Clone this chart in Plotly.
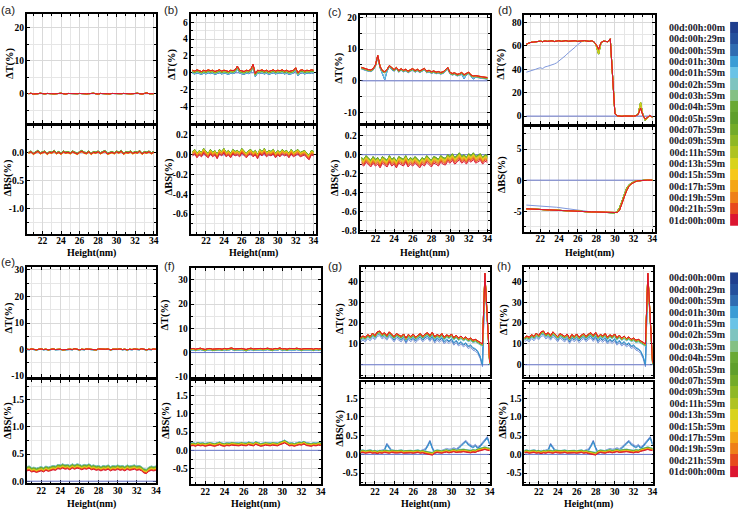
import plotly.graph_objects as go

W, HPX = 745, 515
SERIF = "Liberation Serif"
SANS = "Liberation Sans"

# ---------------- data ----------------
HEIGHT = [20.5 + 0.25 * i for i in range(55)]  # measurement heights (nm)
X_TICKS = [22, 24, 26, 28, 30, 32, 34]

TIME_LABELS = ["00d:00h:00m", "00d:00h:29m", "00d:00h:59m", "00d:01h:30m", "00d:01h:59m",
               "00d:02h:59m", "00d:03h:59m", "00d:04h:59m", "00d:05h:59m", "00d:07h:59m",
               "00d:09h:59m", "00d:11h:59m", "00d:13h:59m", "00d:15h:59m", "00d:17h:59m",
               "00d:19h:59m", "00d:21h:59m", "01d:00h:00m"]
COLORS = ["#1f3f8e", "#24509c", "#2f6cb1", "#3a9cd5", "#6ac3e6", "#7ec4bf", "#84c084",
          "#69a934", "#5f9f2c", "#73ab29", "#8fb825", "#afc321", "#d8d31c", "#f6c81a",
          "#f4a616", "#ee8018", "#e74a1d", "#dc1631"]
LINE_COLORS = ["#6a78cc", "#7f98dc"] + COLORS[2:]

REFERENCE = [0.0] * 55  # scan at t=0 is the reference (delta = 0)

# (a)
A_T = [0.0, 0.1, -0.1, 0.05, 0.0, 0.1, 0.0, -0.05, 0.05, 0.1, 0.0,
       -0.05, 0.05, 0.0, 0.1, 0.0, -0.1, 0.05, 0.0, 0.1, -0.05, 0.0,
       0.05, 0.1, 0.0, -0.05, 0.05, 0.0, 0.1, 0.0, -0.1, 0.05, 0.0,
       0.1, 0.0, -0.05, 0.05, 0.0, 0.1, -0.05, 0.0, 0.05, 0.1, 0.0,
       -0.05, 0.05, 0.0, 0.1, 0.0, -0.1, 0.05, 0.2, 0.0, 0.05, 0.0]
A_T_OFF = [0.0] * 18
A_BS = [0.0, 0.02, -0.02, 0.01, 0.03, -0.01, 0.0, 0.02, -0.02, 0.01, 0.0,
        0.03, -0.01, 0.01, -0.02, 0.02, 0.0, 0.01, -0.01, 0.02, 0.0, -0.02,
        0.01, 0.03, 0.0, -0.01, 0.02, -0.02, 0.01, 0.0, 0.02, -0.01, 0.01,
        0.03, -0.02, 0.0, 0.01, -0.01, 0.02, 0.0, 0.03, -0.02, 0.01, 0.0,
        0.02, -0.01, 0.01, 0.0, 0.03, -0.02, 0.01, 0.0, 0.02, -0.01, 0.01]
A_BS_OFF = [0.0, 0.01, 0.01, 0.01, 0.01, 0.015, 0.015, 0.015, 0.01, 0.01, 0.005, 0.0,
            -0.005, -0.01, -0.01, -0.005, 0.0, 0.0]

# (b)
B_T = [0.3, 0.2, 0.35, 0.25, 0.15, 0.3, 0.2, 0.35, 0.25, 0.3, 0.15,
       0.25, 0.35, 0.2, 0.3, 0.25, 0.15, 0.3, 0.25, 0.35, 0.8, 0.3,
       0.2, 0.15, 0.3, 0.25, 0.4, 1.0, -0.1, 0.3, 0.25, 0.35, 0.2,
       0.3, 0.15, 0.25, 0.35, 0.2, 0.3, 0.25, 0.35, 0.2, 0.3, 0.15,
       0.25, 0.3, 0.6, 0.0, 0.3, 0.35, 0.2, 0.3, 0.25, 0.35, 0.3]
B_T_OFF = [0.0, -0.35, -0.35, -0.3, -0.3, -0.25, -0.2, -0.15, -0.15, -0.1, -0.1, -0.05,
           -0.05, 0.0, 0.0, 0.0, 0.0, 0.0]
B_BS = [-0.01, 0.01, -0.03, 0.0, -0.02, 0.02, -0.01, -0.03, 0.01, -0.02, 0.0,
        -0.04, 0.01, -0.01, 0.02, -0.02, 0.0, -0.03, 0.01, -0.01, 0.0, -0.02,
        0.02, -0.01, -0.03, 0.0, 0.01, -0.02, 0.0, -0.04, 0.01, -0.01, 0.02,
        -0.02, 0.0, -0.01, 0.01, -0.03, 0.0, -0.02, 0.01, -0.01, 0.0, -0.03,
        0.01, -0.02, 0.0, 0.01, -0.02, -0.01, 0.0, -0.03, -0.05, 0.0, -0.01]
B_BS_OFF = [0.0, 0.03, 0.03, 0.035, 0.035, 0.04, 0.04, 0.045, 0.045, 0.04, 0.04, 0.035,
            0.035, 0.03, 0.025, 0.02, 0.01, 0.0]

# (c)
C_T = [4.2, 3.9, 3.7, 3.5, 3.4, 3.8, 5.0, 8.0, 4.5, 3.2, 2.8,
       3.6, 4.8, 4.0, 3.5, 4.2, 3.2, 3.8, 3.3, 3.6, 3.0, 3.5,
       3.8, 3.2, 3.6, 3.1, 3.4, 3.9, 3.0, 3.3, 2.8, 3.1, 2.7,
       2.9, 2.6, 2.8, 3.4, 4.2, 2.6, 2.3, 2.5, 2.0, 2.2, 2.6,
       1.9, 2.3, 2.7, 1.8, 1.5, 1.6, 1.4, 1.3, 1.2, 1.1, 1.0]
C_T_EARLY = [3.7, 3.4, 3.2, 3.0, 2.9, 3.3, 4.5, 7.4, 4.0, 2.4, 0.3,
             3.0, 4.3, 3.5, 3.0, 3.7, 2.7, 3.3, 2.8, 3.1, 2.5, 3.0,
             3.3, 2.7, 3.1, 2.6, 2.9, 3.4, 2.5, 2.8, 2.3, 2.6, 2.2,
             2.4, 2.1, 2.3, 2.9, 3.6, 2.1, 1.8, 2.0, 1.5, 1.7, 2.0,
             0.6, 1.8, 2.2, 1.3, 0.5, 1.1, 0.9, 0.8, 0.7, 0.6, 0.5]
C_T_OFF = [0.0, 0.0, 0.1, 0.1, 0.2, -0.3, -0.3, -0.2, -0.2, -0.15, -0.1, -0.1, -0.05,
           0.0, 0.05, 0.05, 0.05, 0.0]
C_BS = [-0.1, -0.12, -0.08, -0.11, -0.13, -0.09, -0.12, -0.1, -0.14, -0.09, -0.11,
        -0.13, -0.08, -0.12, -0.1, -0.14, -0.09, -0.11, -0.12, -0.08, -0.13, -0.1,
        -0.12, -0.09, -0.11, -0.14, -0.1, -0.12, -0.08, -0.11, -0.13, -0.09, -0.1,
        -0.12, -0.08, -0.1, -0.11, -0.07, -0.09, -0.06, -0.1, -0.08, -0.05, -0.09,
        -0.07, -0.1, -0.06, -0.08, -0.05, -0.09, -0.07, -0.06, -0.1, -0.07, -0.08]
C_BS_OFF = [0.0, 0.05, 0.05, 0.04, 0.04, 0.05, 0.06, 0.07, 0.07, 0.065, 0.06, 0.055,
            0.05, 0.045, 0.035, 0.025, 0.015, 0.0]

# (d)
D_T = [61.5, 62.5, 63.0, 63.2, 63.5, 63.8, 64.0, 63.6, 64.2, 63.8, 64.0,
       64.3, 63.7, 64.0, 64.4, 63.8, 64.1, 64.5, 63.9, 64.2, 64.0, 64.4,
       63.8, 64.2, 64.0, 64.5, 64.1, 63.8, 64.3, 63.5, 60.0, 53.0, 62.5,
       64.0, 63.8, 63.5, 66.0, 30.0, 2.0, 0.3, 0.0, -0.2, 0.1, 0.0,
       -0.1, 0.2, 0.0, 0.3, 2.0, 11.5, 1.0, -3.5, -1.0, 0.5, -0.8]
D_T_LATE = [61.5, 62.5, 63.0, 63.2, 63.5, 63.8, 64.0, 63.6, 64.2, 63.8, 64.0,
            64.3, 63.7, 64.0, 64.4, 63.8, 64.1, 64.5, 63.9, 64.2, 64.0, 64.4,
            63.8, 64.2, 64.0, 64.5, 64.1, 63.8, 64.3, 63.5, 61.0, 57.0, 62.8,
            64.0, 63.8, 63.5, 66.0, 30.0, 2.0, 0.3, 0.0, -0.2, 0.1, 0.0,
            -0.1, 0.2, 0.0, 0.3, 1.5, 7.0, 0.5, -2.5, -1.0, 0.5, -0.8]
D_T_29M = [37.5, 38.0, 39.0, 39.2, 40.0, 40.8, 41.3, 40.6, 42.0, 42.5, 43.0,
           43.5, 44.5, 45.5, 47.0, 48.5, 50.0, 52.0, 54.0, 55.5, 57.5, 59.0,
           61.0, 62.5, 64.0, 64.5, 64.1, 63.8, 64.3, 63.5, 60.0, 53.0, 62.5,
           64.0, 63.8, 63.5, 66.0, 30.0, 2.0, 0.3, 0.0, -0.2, 0.1, 0.0,
           -0.1, 0.2, 0.0, 0.3, 2.0, 11.5, 1.0, -3.5, -1.0, 0.5, -0.8]
D_T_OFF = [0.0] * 18
D_BS = [-4.6, -4.62, -4.65, -4.66, -4.7, -4.7, -4.72, -4.74, -4.75, -4.78, -4.8,
        -4.82, -4.84, -4.85, -4.88, -4.9, -4.92, -4.93, -4.95, -4.96, -4.98, -5.0,
        -5.0, -5.02, -5.04, -5.05, -5.06, -5.08, -5.1, -5.1, -5.12, -5.14, -5.15,
        -5.17, -5.18, -5.2, -5.22, -5.25, -5.25, -5.0, -4.4, -3.4, -2.2, -1.3,
        -0.75, -0.45, -0.25, -0.14, -0.08, -0.04, -0.02, 0.0, 0.0, 0.0, 0.0]
D_BS_LATE = [-4.6, -4.62, -4.65, -4.66, -4.7, -4.7, -4.72, -4.74, -4.75, -4.78, -4.8,
             -4.82, -4.84, -4.85, -4.88, -4.9, -4.92, -4.93, -4.95, -4.96, -4.98, -5.0,
             -5.0, -5.02, -5.04, -5.05, -5.06, -5.08, -5.1, -5.1, -5.12, -5.14, -5.15,
             -5.17, -5.18, -5.2, -5.22, -5.25, -5.3, -5.2, -4.8, -3.9, -2.7, -1.7,
             -1.0, -0.6, -0.35, -0.2, -0.1, -0.05, -0.02, 0.0, 0.0, 0.0, 0.0]
D_BS_29M = [-4.0, -4.02, -4.05, -4.07, -4.1, -4.12, -4.15, -4.18, -4.2, -4.22, -4.25,
            -4.28, -4.3, -4.35, -4.4, -4.45, -4.5, -4.55, -4.6, -4.65, -4.7, -4.78,
            -4.85, -4.92, -5.0, -5.05, -5.06, -5.08, -5.1, -5.1, -5.12, -5.14, -5.15,
            -5.17, -5.18, -5.2, -5.22, -5.25, -5.25, -5.0, -4.4, -3.4, -2.2, -1.3,
            -0.75, -0.45, -0.25, -0.14, -0.08, -0.04, -0.02, 0.0, 0.0, 0.0, 0.0]
D_BS_OFF = [0.0] * 18

# (e)
E_T = [0.1, 0.0, 0.2, 0.1, -0.1, 0.1, 0.2, 0.0, 0.1, -0.1, 0.1,
       0.2, 0.0, 0.1, 0.1, -0.1, 0.0, 0.2, 0.1, 0.0, 0.3, 0.1,
       -0.1, 0.1, 0.0, 0.2, 0.1, 0.0, 0.1, -0.1, 0.2, 0.1, 0.0,
       0.1, 0.2, -0.1, 0.1, 0.0, 0.1, 0.2, 0.0, 0.1, -0.1, 0.1,
       0.0, 0.2, 0.1, 0.0, 0.3, 0.1, -0.1, 0.1, 0.0, 0.2, 0.1]
E_T_OFF = [0.0, -0.1, -0.1, -0.1, -0.1, -0.05, -0.05, 0.0, 0.0, 0.0, 0.0, 0.0, 0.0,
           0.0, 0.0, 0.0, 0.0, 0.0]
E_BS = [0.19, 0.2, 0.17, 0.18, 0.16, 0.18, 0.19, 0.17, 0.2, 0.18, 0.2,
        0.21, 0.2, 0.23, 0.22, 0.24, 0.22, 0.23, 0.21, 0.24, 0.22, 0.24,
        0.23, 0.21, 0.23, 0.22, 0.24, 0.21, 0.22, 0.2, 0.21, 0.19, 0.21,
        0.2, 0.22, 0.19, 0.21, 0.2, 0.22, 0.2, 0.21, 0.19, 0.22, 0.2,
        0.21, 0.22, 0.2, 0.21, 0.19, 0.15, 0.14, 0.18, 0.2, 0.19, 0.2]
E_BS_OFF = [0.0, 0.07, 0.07, 0.075, 0.075, 0.08, 0.07, 0.06, 0.06, 0.05, 0.05, 0.04,
            0.03, 0.025, 0.02, 0.015, 0.01, 0.0]

# (f)
F_T = [1.5, 1.7, 1.4, 1.6, 1.8, 1.5, 1.3, 1.6, 1.7, 1.4, 1.5,
       1.8, 1.6, 1.4, 1.7, 1.5, 1.6, 1.9, 1.5, 1.4, 1.6, 1.7,
       1.5, 1.3, 1.6, 1.8, 1.5, 1.6, 1.4, 1.7, 1.5, 1.6, 1.8,
       1.5, 1.4, 1.7, 1.6, 1.9, 1.5, 1.6, 1.4, 1.7, 1.5, 1.6,
       1.8, 1.5, 1.4, 1.6, 1.7, 1.5, 1.6, 1.4, 1.7, 1.5, 1.6]
F_T_OFF = [0.0, -0.6, -0.6, -0.55, -0.55, -0.5, -0.4, -0.35, -0.3, -0.3, -0.25, -0.2,
           -0.15, -0.1, -0.05, 0.0, 0.0, 0.0]
F_BS = [0.12, 0.13, 0.11, 0.14, 0.12, 0.13, 0.11, 0.12, 0.14, 0.12, 0.11,
        0.13, 0.15, 0.12, 0.11, 0.13, 0.12, 0.14, 0.13, 0.11, 0.12, 0.14,
        0.13, 0.12, 0.15, 0.13, 0.12, 0.16, 0.13, 0.11, 0.12, 0.14, 0.13,
        0.12, 0.14, 0.13, 0.12, 0.15, 0.17, 0.2, 0.16, 0.12, 0.13, 0.11,
        0.13, 0.15, 0.14, 0.17, 0.13, 0.12, 0.11, 0.13, 0.12, 0.14, 0.13]
F_BS_OFF = [0.0, 0.07, 0.07, 0.075, 0.075, 0.07, 0.065, 0.06, 0.055, 0.05, 0.045, 0.04,
            0.035, 0.03, 0.02, 0.015, 0.01, 0.0]

# (g)
G_T = [13.0, 13.8, 13.2, 14.5, 13.6, 15.2, 14.0, 15.8, 16.2, 14.6, 15.4,
       14.0, 15.8, 14.8, 13.5, 15.0, 14.2, 13.6, 14.8, 12.8, 14.6, 13.5,
       14.8, 13.2, 14.2, 15.0, 13.6, 14.8, 15.4, 14.0, 15.6, 13.4, 14.6,
       13.8, 15.0, 13.2, 14.4, 13.6, 14.8, 13.0, 14.2, 12.8, 13.8, 12.6,
       13.4, 12.2, 12.8, 11.8, 12.2, 11.4, 10.8, 10.0, 44.0, 20.0, 1.0]
G_T_EARLY = [11.0, 11.8, 11.0, 12.6, 11.5, 13.0, 12.0, 13.6, 14.0, 12.4, 13.2,
             11.8, 13.5, 12.5, 11.0, 12.8, 11.8, 11.0, 12.6, 10.2, 12.2, 11.0,
             12.4, 10.6, 11.8, 12.6, 11.0, 12.2, 12.8, 11.2, 12.8, 10.4, 11.8,
             10.8, 12.0, 10.0, 11.2, 10.2, 11.4, 9.4, 10.6, 9.0, 10.0, 8.6,
             9.4, 7.8, 8.4, 7.0, 6.6, 5.4, 3.0, -1.0, 40.0, 18.0, 1.0]
G_T_OFF = [0.0, 0.0, 0.8, 1.2, -1.2, -1.0, -0.8, -0.6, -0.5, -0.4, -0.3, -0.2, -0.2,
           -0.1, 0.0, 0.0, 0.0, 0.0]
G_BS = [0.04, 0.05, 0.03, 0.04, 0.05, 0.03, 0.04, 0.02, 0.04, 0.03, 0.05,
        0.04, 0.03, 0.05, 0.04, 0.03, 0.04, 0.05, 0.03, 0.04, 0.05, 0.04,
        0.03, 0.04, 0.05, 0.03, 0.04, 0.02, 0.01, 0.0, -0.02, 0.03, 0.05,
        0.04, 0.03, 0.05, 0.06, 0.04, 0.05, 0.07, 0.05, 0.06, 0.05, 0.07,
        0.06, 0.05, 0.04, 0.06, 0.05, 0.08, 0.1, 0.12, 0.13, 0.11, 0.1]
G_BS_EARLY = [0.1, 0.09, 0.11, 0.1, 0.12, 0.1, 0.09, 0.11, 0.1, 0.12, 0.14,
              0.3, 0.22, 0.12, 0.1, 0.11, 0.09, 0.1, 0.11, 0.09, 0.1, 0.11,
              0.1, 0.09, 0.11, 0.1, 0.12, 0.15, 0.25, 0.38, 0.2, 0.08, 0.1,
              0.09, 0.11, 0.13, 0.16, 0.14, 0.15, 0.18, 0.15, 0.2, 0.26, 0.33,
              0.38, 0.3, 0.25, 0.22, 0.27, 0.2, 0.25, 0.32, 0.4, 0.48, 0.3]
G_BS_OFF = [0.0, 0.0, -0.03, -0.05, 0.07, 0.07, 0.06, 0.055, 0.05, 0.045, 0.04, 0.035,
            0.03, 0.025, 0.02, 0.015, 0.01, 0.0]

# (h) – same sample measured again; profiles read as identical to (g)
H_T, H_T_EARLY, H_T_OFF = G_T, G_T_EARLY, G_T_OFF
H_BS, H_BS_EARLY, H_BS_OFF = G_BS, G_BS_EARLY, G_BS_OFF


def build(offsets, default, overrides=None):
    overrides = overrides or []
    out = [REFERENCE]
    for s in range(1, 18):
        prof = default
        for ids, p in overrides:
            if s in ids:
                prof = p
        out.append([round(v + offsets[s], 4) for v in prof])
    return out


EARLY3 = (1, 2, 3)
EARLY4 = (1, 2, 3, 4)
LATE = (13, 14, 15, 16, 17)

TOP_XR = [20.3, 34.25]
BOT_XR = [20.5, 34.0]

PANELS = [
    dict(lab="(a)", lab_xy=(8, 8), xbox=(27, 157), tbox=(12, 123), bbox=(126, 235), xr=TOP_XR,
         t=build(A_T_OFF, A_T), tr=[-9, 24.2], tt=[0, 10, 20], tm=5, tf=0,
         b=build(A_BS_OFF, A_BS), br=[-1.46, 0.48], bt=[-1.0, -0.5, 0.0], bm=0.25, bf=1,
         tt_xy=(10, 62), bt_xy=(8, 178), h_y=254),
    dict(lab="(b)", lab_xy=(172, 8), xbox=(192, 318), tbox=(12, 123), bbox=(126, 235), xr=TOP_XR,
         t=build(B_T_OFF, B_T), tr=[-6, 7], tt=[-4, -2, 0, 2, 4, 6], tm=1, tf=0,
         b=build(B_BS_OFF, B_BS), br=[-0.8, 0.29], bt=[-0.6, -0.4, -0.2, 0.0, 0.2], bm=0.1, bf=1,
         tt_xy=(173, 63), bt_xy=(170, 177), h_y=254),
    dict(lab="(c)", lab_xy=(337, 10), xbox=(362, 493), tbox=(13, 123), bbox=(126, 233), xr=TOP_XR,
         t=build(C_T_OFF, C_T, [(EARLY4, C_T_EARLY)]), tr=[-13.4, 20.8], tt=[-10, 0, 10, 20],
         tm=5, tf=0,
         b=build(C_BS_OFF, C_BS), br=[-0.815, 0.3], bt=[-0.8, -0.6, -0.4, -0.2, 0.0, 0.2],
         bm=0.1, bf=1,
         tt_xy=(341, 67), bt_xy=(337, 178), h_y=254),
    dict(lab="(d)", lab_xy=(508, 8), xbox=(528, 659), tbox=(13, 124), bbox=(127, 233), xr=TOP_XR,
         t=build(D_T_OFF, D_T, [((1,), D_T_29M), (LATE, D_T_LATE)]), tr=[-7, 86.5],
         tt=[0, 20, 40, 60, 80], tm=10, tf=0,
         b=build(D_BS_OFF, D_BS, [((1,), D_BS_29M), ((12,) + LATE, D_BS_LATE)]), br=[-8.3, 8.5],
         bt=[-5, 0, 5], bm=2.5, bf=0,
         tt_xy=(505, 63), bt_xy=(505, 175), h_y=254),
    dict(lab="(e)", lab_xy=(8, 264), xbox=(27, 157), tbox=(269, 380), bbox=(383, 488), xr=BOT_XR,
         t=build(E_T_OFF, E_T), tr=[-10.3, 31], tt=[-10, 0, 10, 20, 30], tm=5, tf=0,
         b=build(E_BS_OFF, E_BS), br=[-0.04, 1.87], bt=[0.0, 0.5, 1.0, 1.5], bm=0.25, bf=1,
         tt_xy=(9, 320), bt_xy=(8, 424), h_y=508.5),
    dict(lab="(f)", lab_xy=(171, 268), xbox=(192, 323), tbox=(270, 380), bbox=(384, 489), xr=BOT_XR,
         t=build(F_T_OFF, F_T), tr=[-10, 34.7], tt=[-10, 0, 10, 20, 30], tm=5, tf=0,
         b=build(F_BS_OFF, F_BS), br=[-0.93, 1.9], bt=[-0.5, 0.0, 0.5, 1.0, 1.5], bm=0.25, bf=1,
         tt_xy=(166, 317), bt_xy=(167, 424), h_y=508.5),
    dict(lab="(g)", lab_xy=(337, 268), xbox=(363, 493), tbox=(269, 380), bbox=(385, 489), xr=BOT_XR,
         t=build(G_T_OFF, G_T, [(EARLY3, G_T_EARLY)]), tr=[-5.8, 46.8], tt=[10, 20, 30, 40],
         tm=5, tf=0,
         b=build(G_BS_OFF, G_BS, [(EARLY3, G_BS_EARLY)]), br=[-0.8, 1.94],
         bt=[-0.5, 0.0, 0.5, 1.0, 1.5], bm=0.25, bf=1,
         tt_xy=(342, 321), bt_xy=(342, 432), h_y=508.5),
    dict(lab="(h)", lab_xy=(507, 268), xbox=(528, 657), tbox=(269, 380), bbox=(385, 489), xr=BOT_XR,
         t=build(H_T_OFF, H_T, [(EARLY3, H_T_EARLY)]), tr=[-5.8, 46.8], tt=[0, 10, 20, 30, 40],
         tm=5, tf=0,
         b=build(H_BS_OFF, H_BS, [(EARLY3, H_BS_EARLY)]), br=[-0.8, 1.94],
         bt=[-0.5, 0.0, 0.5, 1.0, 1.5], bm=0.25, bf=1,
         tt_xy=(507, 322), bt_xy=(507, 424), h_y=508.5),
]

# ---------------- figure ----------------
fig = go.Figure()
layout = dict(width=W, height=HPX, margin=dict(l=0, r=0, t=0, b=0),
              paper_bgcolor="white", plot_bgcolor="white", showlegend=False)
annotations = []

TICKFONT = dict(family=SERIF, size=9.5, color="black", weight="bold")
AX = dict(showline=True, linecolor="black", linewidth=2, mirror="allticks",
          ticks="inside", ticklen=3, tickwidth=1, tickcolor="black",
          showgrid=True, gridcolor="#d9d9d9", gridwidth=1, zeroline=False,
          tickfont=TICKFONT, fixedrange=True, layer="below traces")


def refs(n):
    return ("x" if n == 1 else f"x{n}", "y" if n == 1 else f"y{n}",
            "xaxis" if n == 1 else f"xaxis{n}", "yaxis" if n == 1 else f"yaxis{n}")


def add_axes(n, xbox, ybox, xr, yr, yt, ym, ydec, show_x):
    xref, yref, xk, yk = refs(n)
    layout[xk] = dict(AX, domain=[xbox[0] / W, xbox[1] / W], range=xr, anchor=yref,
                      tickmode="array", tickvals=X_TICKS, showticklabels=show_x,
                      ticklabelstandoff=-3,
                      minor=dict(dtick=1, tick0=0, ticks="inside", ticklen=2,
                                 tickcolor="black", showgrid=True, gridcolor="#e6e6e6"))
    layout[yk] = dict(AX, domain=[1 - ybox[1] / HPX, 1 - ybox[0] / HPX], range=yr, anchor=xref,
                      tickmode="array", tickvals=yt,
                      ticktext=[f"{v:.{ydec}f}" for v in yt],
                      ticklabelstandoff=-1,
                      minor=dict(dtick=ym, tick0=0, ticks="inside", ticklen=2,
                                 tickcolor="black", showgrid=True, gridcolor="#e6e6e6"))
    return xref, yref


def add_series(series, xref, yref):
    for s in range(18):
        fig.add_trace(go.Scatter(x=HEIGHT, y=series[s], mode="lines",
                                 line=dict(color=LINE_COLORS[s], width=1),
                                 xaxis=xref, yaxis=yref, hoverinfo="skip",
                                 name=TIME_LABELS[s]))


def ann(text, x, y, size, family, angle=0, bold=True, color="black"):
    annotations.append(dict(text=text, x=x / W, y=1 - y / HPX, xref="paper", yref="paper",
                            showarrow=False, xanchor="center", yanchor="middle",
                            textangle=angle, borderpad=0,
                            font=dict(family=family, size=size, color=color,
                                      weight="bold" if bold else "normal")))


n = 0
for p in PANELS:
    n += 1
    xr_, yr_ = add_axes(n, p["xbox"], p["tbox"], p["xr"], p["tr"], p["tt"], p["tm"], p["tf"], False)
    add_series(p["t"], xr_, yr_)
    n += 1
    xr_, yr_ = add_axes(n, p["xbox"], p["bbox"], p["xr"], p["br"], p["bt"], p["bm"], p["bf"], True)
    add_series(p["b"], xr_, yr_)
    ann(p["lab"], p["lab_xy"][0], p["lab_xy"][1], 11.5, SANS, bold=False, color="#222222")
    ann("ΔT(%)", p["tt_xy"][0], p["tt_xy"][1], 10.5, SERIF, angle=-90)
    ann("ΔBS(%)", p["bt_xy"][0], p["bt_xy"][1], 10.5, SERIF, angle=-90)
    ann("Height(nm)", (p["xbox"][0] + p["xbox"][1]) / 2, p["h_y"], 10, SERIF)

# colour keys (time legend) for both rows
COLORSCALE = [[i / 17, c] for i, c in enumerate(COLORS)]
for ytop, ybot in [(20, 227), (274, 482)]:
    n += 1
    xref, yref, xk, yk = refs(n)
    layout[xk] = dict(domain=[735 / W, 743 / W], range=[-0.5, 0.5], anchor=yref,
                      showticklabels=False, showgrid=False, zeroline=False, showline=False,
                      ticks="", fixedrange=True)
    layout[yk] = dict(domain=[1 - ybot / HPX, 1 - ytop / HPX], range=[17.5, -0.5], anchor=xref,
                      tickmode="array", tickvals=list(range(18)), ticktext=TIME_LABELS,
                      showgrid=False, zeroline=False, showline=False, ticks="",
                      ticklabelstandoff=4,
                      tickfont=dict(family=SERIF, size=10, color="#1a1a2a", weight="bold"),
                      fixedrange=True)
    fig.add_trace(go.Heatmap(z=[[i] for i in range(18)], x=[0], y=list(range(18)),
                             colorscale=COLORSCALE, zmin=0, zmax=17, showscale=False,
                             xaxis=xref, yaxis=yref, hoverinfo="skip"))

layout["annotations"] = annotations
fig.update_layout(**layout)
fig.write_html("out.html", config={"displayModeBar": False},
               post_script="document.body.style.margin='0';document.body.style.overflow='hidden';")
